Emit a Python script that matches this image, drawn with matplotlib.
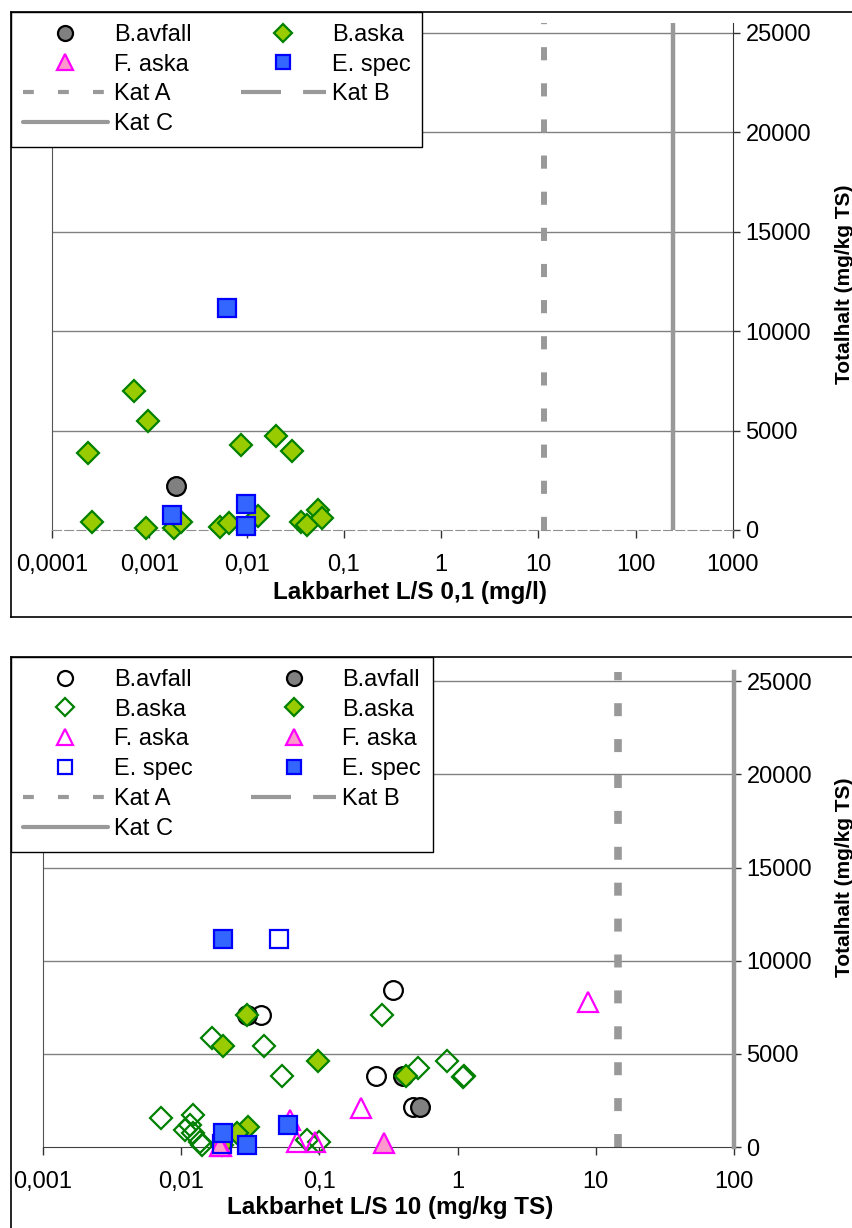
import matplotlib
matplotlib.use("Agg")
import matplotlib.pyplot as plt
from matplotlib.lines import Line2D

plt.rcParams['font.family'] = ['Liberation Sans', 'DejaVu Sans']
plt.rcParams['font.size'] = 17

W, H = 853, 1228

# L/S 0,1 (mg/l) vs totalhalt
top_bavfall_x = [0.0019]
top_bavfall_y = [2200]
top_baska_x = [0.00070, 0.00097, 0.000234, 0.0087, 0.020, 0.029, 0.000257, 0.00092,
               0.0018, 0.0021, 0.0053, 0.0066, 0.0131, 0.036, 0.042, 0.054, 0.060]
top_baska_y = [7000, 5500, 3850, 4250, 4750, 3950, 400, 100,
               100, 400, 150, 350, 700, 400, 250, 1000, 600]
top_espec_x = [0.0063, 0.0017, 0.0099, 0.0099]
top_espec_y = [11150, 750, 1300, 200]
top_kat_a = 11.4
top_kat_b = 240

# L/S 10 (mg/kg TS) vs totalhalt, open = first set, filled = second set
bot_bavfall_open_x = [0.341, 0.038, 0.257, 0.476]
bot_bavfall_open_y = [8420, 7080, 3810, 2150]
bot_bavfall_x = [0.030, 0.40, 0.535]
bot_bavfall_y = [7080, 3810, 2150]
bot_baska_open_x = [0.284, 0.0166, 0.040, 0.054, 0.84, 0.52, 1.12, 1.10, 0.0072,
                    0.0122, 0.0107, 0.0116, 0.0122, 0.0137, 0.0141, 0.081, 0.100]
bot_baska_open_y = [7080, 5850, 5420, 3810, 4610, 4240, 3810, 3780, 1560,
                    1720, 910, 1180, 750, 270, 100, 380, 270]
bot_baska_x = [0.030, 0.020, 0.098, 0.42, 0.0305, 0.0254, 0.0197]
bot_baska_y = [7080, 5420, 4610, 3810, 1070, 750, 100]
bot_faska_open_x = [8.8, 0.20, 0.061, 0.069, 0.093, 0.0195]
bot_faska_open_y = [7780, 2090, 1450, 270, 270, 50]
bot_faska_x = [0.295, 0.019]
bot_faska_y = [200, 30]
bot_espec_open_x = [0.051, 0.0197]
bot_espec_open_y = [11160, 150]
bot_espec_x = [0.020, 0.020, 0.030, 0.059]
bot_espec_y = [11160, 750, 100, 1180]
bot_kat_a = 14.5
bot_kat_c = 100

yticks = [0, 5000, 10000, 15000, 20000, 25000]
top_xticks = [1e-4, 1e-3, 1e-2, 0.1, 1, 10, 100, 1000]
top_xlabels = ['0,0001', '0,001', '0,01', '0,1', '1', '10', '100', '1000']
bot_xticks = [1e-3, 1e-2, 0.1, 1, 10, 100]
bot_xlabels = ['0,001', '0,01', '0,1', '1', '10', '100']

KAT_COLOR = '#999999'
STYLES = {
    'bavfall': dict(marker='o', ms=13.5, mfc='#808080', mec='black'),
    'baska': dict(marker='D', ms=11.5, mfc='#99CC00', mec='#008000'),
    'faska': dict(marker='^', ms=14.5, mfc='#FF99CC', mec='#FF00FF'),
    'espec': dict(marker='s', ms=12.5, mfc='#3366FF', mec='#0000FF'),
}


def px_rect(x0, y0, x1, y1):
    # pixel box (top-left origin) -> figure fractions
    return [x0 / W, 1 - y1 / H, (x1 - x0) / W, (y1 - y0) / H]


def scatter(ax, x, y, kind, hollow=False, z=5):
    st = dict(STYLES[kind])
    if hollow:
        st['mfc'] = 'none'
    ax.plot(x, y, ls='none', mew=1.6, zorder=z, clip_on=False, **st)


def marker_handle(kind, hollow=False):
    st = dict(STYLES[kind])
    st['ms'] = st['ms'] * 0.8
    if hollow:
        st['mfc'] = 'none'
    return Line2D([], [], ls='none', mew=1.6, **st)


def kat_handle(name):
    if name == 'A':
        return Line2D([], [], color=KAT_COLOR, lw=3, ls=(0, (2.6, 5.8)))
    if name == 'B':
        return Line2D([], [], color=KAT_COLOR, lw=3, ls=(0, (9.6, 5.3)))
    return Line2D([], [], color=KAT_COLOR, lw=3, solid_capstyle='round')


def setup(ax, xlim, xticks, xlabels, dashed_base):
    ax.set_xscale('log')
    ax.set_xlim(*xlim)
    ax.set_ylim(0, 25500)
    ax.set_xticks(xticks)
    ax.set_xticklabels(xlabels)
    ax.minorticks_off()
    ax.set_yticks(yticks)
    ax.yaxis.tick_right()
    ax.tick_params(axis='y', direction='out', length=5, width=1, pad=4,
                   labelsize=17, color='#333333')
    ax.tick_params(axis='x', direction='out', length=5.5, width=1, pad=12,
                   labelsize=17, color='#333333')
    for yv in yticks[1:]:
        ax.axhline(yv, color='#808080', lw=1, zorder=1)
    ax.spines['top'].set_visible(False)
    ax.spines['left'].set_color('#555555')
    ax.spines['right'].set_color('#333333')
    if dashed_base:
        ax.spines['bottom'].set_color('#909090')
        ax.spines['bottom'].set_linestyle((0, (8, 3)))
    else:
        ax.spines['bottom'].set_color('#404040')
    ax.yaxis.set_label_position('right')


def add_legend(handles, labels, top_px, colspace):
    leg = fig.legend(handles, labels, loc='upper left',
                     bbox_to_anchor=(11 / W, 1 - top_px / H),
                     bbox_transform=fig.transFigure, ncol=2, borderaxespad=0,
                     borderpad=0.5, handlelength=3.6, handletextpad=0.25,
                     columnspacing=colspace, labelspacing=0.33, fancybox=False,
                     edgecolor='black', framealpha=1, fontsize=17)
    leg.get_frame().set_linewidth(1)
    return leg


fig = plt.figure(figsize=(W / 100, H / 100), dpi=100)

# ---------- upper chart ----------
ax1 = fig.add_axes(px_rect(52, 23, 733, 530))
setup(ax1, (1e-4, 1000), top_xticks, top_xlabels, True)
ax1.axvline(top_kat_a, color=KAT_COLOR, lw=4.3, ls=(0, (2.2, 3.85)), zorder=2)
ax1.axvline(top_kat_b, color=KAT_COLOR, lw=3.2, zorder=2)
scatter(ax1, top_bavfall_x, top_bavfall_y, 'bavfall')
scatter(ax1, top_baska_x, top_baska_y, 'baska')
scatter(ax1, top_espec_x, top_espec_y, 'espec')
ax1.set_xlabel('Lakbarhet L/S 0,1 (mg/l)', fontsize=17.5, fontweight='bold')
ax1.xaxis.set_label_coords(0.526, -0.1)
ax1.set_ylabel('Totalhalt (mg/kg TS)', fontsize=15, fontweight='bold')
ax1.yaxis.set_label_coords(1.150, 0.484)

h1 = [marker_handle('bavfall'), marker_handle('faska'), kat_handle('A'), kat_handle('C'),
      marker_handle('baska'), marker_handle('espec'), kat_handle('B')]
l1 = ['B.avfall', 'F. aska', 'Kat A', 'Kat C', 'B.aska', 'E. spec', 'Kat B']
add_legend(h1, l1, 12, 2.1)

# ---------- lower chart ----------
ax2 = fig.add_axes(px_rect(43, 672, 734, 1147))
setup(ax2, (1e-3, 100), bot_xticks, bot_xlabels, False)
ax2.axvline(bot_kat_a, color=KAT_COLOR, lw=5.5, ls=(0, (1.7, 3.0)), zorder=2)
ax2.axvline(bot_kat_c, color=KAT_COLOR, lw=3.2, zorder=3, clip_on=False)
scatter(ax2, bot_bavfall_open_x, bot_bavfall_open_y, 'bavfall', hollow=True, z=4)
scatter(ax2, bot_bavfall_x, bot_bavfall_y, 'bavfall', z=5)
scatter(ax2, bot_baska_open_x, bot_baska_open_y, 'baska', hollow=True, z=6)
scatter(ax2, bot_baska_x, bot_baska_y, 'baska', z=7)
scatter(ax2, bot_faska_open_x, bot_faska_open_y, 'faska', hollow=True, z=8)
scatter(ax2, bot_faska_x, bot_faska_y, 'faska', z=9)
scatter(ax2, bot_espec_open_x, bot_espec_open_y, 'espec', hollow=True, z=10)
scatter(ax2, bot_espec_x, bot_espec_y, 'espec', z=11)
ax2.set_xlabel('Lakbarhet L/S 10 (mg/kg TS)', fontsize=17.5, fontweight='bold')
ax2.xaxis.set_label_coords(0.502, -0.103)
ax2.set_ylabel('Totalhalt (mg/kg TS)', fontsize=15, fontweight='bold')
ax2.yaxis.set_label_coords(1.146, 0.568)

h2 = [marker_handle('bavfall', True), marker_handle('baska', True),
      marker_handle('faska', True), marker_handle('espec', True),
      kat_handle('A'), kat_handle('C'),
      marker_handle('bavfall'), marker_handle('baska'), marker_handle('faska'),
      marker_handle('espec'), kat_handle('B')]
l2 = ['B.avfall', 'B.aska', 'F. aska', 'E. spec', 'Kat A', 'Kat C',
      'B.avfall', 'B.aska', 'F. aska', 'E. spec', 'Kat B']
add_legend(h2, l2, 657, 2.5)


# chart area borders
def fig_line(x0, y0, x1, y1):
    fig.add_artist(Line2D([x0 / W, x1 / W], [1 - y0 / H, 1 - y1 / H],
                          transform=fig.transFigure, color='black', lw=1.2))


fig_line(11, 12, 853, 12)
fig_line(11, 12, 11, 617)
fig_line(11, 617, 853, 617)
fig_line(11, 657, 853, 657)
fig_line(11, 657, 11, 1228)

fig.savefig('out.png', dpi=100)
